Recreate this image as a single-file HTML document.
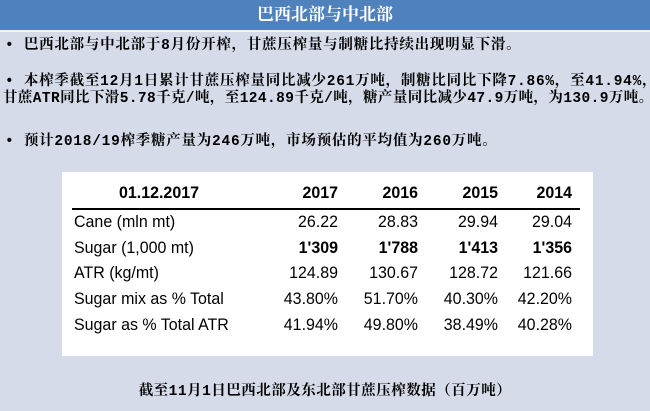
<!DOCTYPE html>
<html><head><meta charset="utf-8"><style>
body{margin:0;width:650px;height:411px;background:#d5dbe8;position:relative;overflow:hidden;font-family:"Liberation Mono","Noto Serif CJK SC",serif;color:#000}
.hdr{position:absolute;left:0;top:0;width:650px;height:30px;background:#4f81bd;color:#fff;font-family:"Liberation Serif","Noto Serif CJK SC",serif;font-size:17px;font-weight:bold;text-align:center;line-height:30px;border-bottom:2px solid #eef2f8}
.t{position:absolute;left:5px;font-size:14.5px;font-weight:bold;white-space:nowrap;line-height:17px;letter-spacing:0.75px}
.box{position:absolute;left:62px;top:172px;width:531px;height:184px;background:#fff}
.c{position:absolute;font-family:"Liberation Sans",sans-serif;font-size:17px;white-space:nowrap;line-height:20px;transform:scaleX(0.94);transform-origin:left}
.r{text-align:right;width:70px;transform-origin:right}
.cap{position:absolute;left:0;width:650px;top:379px;text-align:center;font-size:14.5px;font-weight:bold;letter-spacing:0.5px}
</style></head><body>
<div class="hdr">巴西北部与中北部</div>
<div class="t" style="top:38px">• 巴西北部与中北部于8月份开榨，甘蔗压榨量与制糖比持续出现明显下滑。</div>
<div class="t" style="top:74px">• 本榨季截至12月1日累计甘蔗压榨量同比减少261万吨，制糖比同比下降7.86%，至41.94%，</div>
<div class="t" style="top:91px;left:3px;letter-spacing:0.4px">甘蔗ATR同比下滑5.78千克/吨，至124.89千克/吨，糖产量同比减少47.9万吨，为130.9万吨。</div>
<div class="t" style="top:134px">• 预计2018/19榨季糖产量为246万吨，市场预估的平均值为260万吨。</div>
<div class="box" id="box">
<div style="position:absolute;left:10px;top:36px;width:508px;height:2px;background:#000"></div>
</div>
<div class="cap">截至11月1日巴西北部及东北部甘蔗压榨数据（百万吨）</div>
<script>
const headers=["2017","2016","2015","2014"];
const labels=["Cane (mln mt)","Sugar (1,000 mt)","ATR (kg/mt)","Sugar mix as % Total","Sugar as % Total ATR"];
const rows=[["26.22","28.83","29.94","29.04"],["1'309","1'788","1'413","1'356"],["124.89","130.67","128.72","121.66"],["43.80%","51.70%","40.30%","42.20%"],["41.94%","49.80%","38.49%","40.28%"]];
const box=document.getElementById('box');
const colRight=[276,356,436,510];
function mk(txt,x,y,cls,bold,name){const d=document.createElement('div');d.className='c '+cls;d.textContent=txt;d.style.left=x+'px';d.style.top=y+'px';if(bold)d.style.fontWeight='bold';


box.appendChild(d);}
mk("01.12.2017",57,11,'',true,'date-header');
headers.forEach((h,i)=>mk(h,colRight[i]-70,11,'r',true,'year-header-'+h));
labels.forEach((l,j)=>{const y=40+j*25.7;mk(l,12,y,'',false,'row-label');
rows[j].forEach((v,i)=>mk(v,colRight[i]-70,y,'r',j===1,'cell'));});
</script>
</body></html>
